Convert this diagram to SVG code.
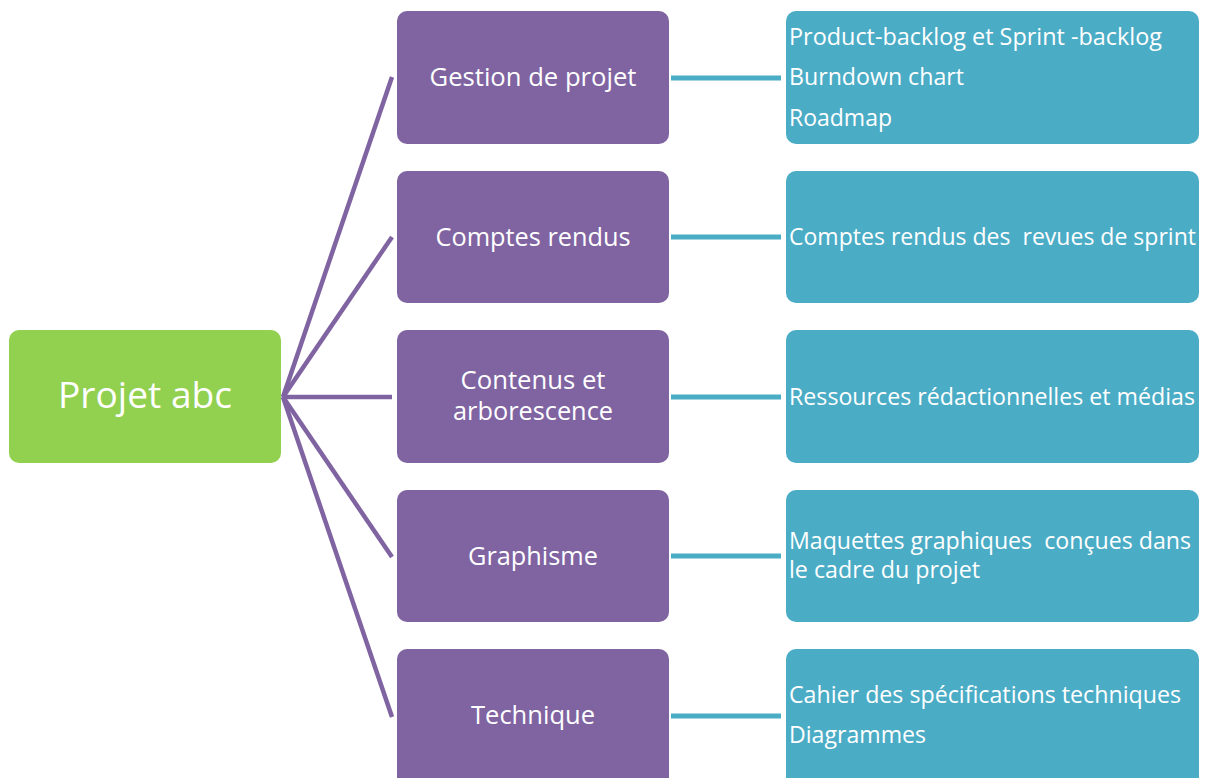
<svg xmlns="http://www.w3.org/2000/svg" width="1206" height="778" viewBox="0 0 1206 778">
<style>
.root{fill:#92D050}
.mid{fill:#8064A2}
.leaf{fill:#4BACC6}
text{font-family:"Open Sans","Liberation Sans",sans-serif;fill:#fff;white-space:pre}
.t1{font-size:37px;text-anchor:middle}
.t2{font-size:25px;text-anchor:middle}
.t3{font-size:23px}
.c1{stroke:#8064A2;stroke-width:4.5;fill:none}
.c2{stroke:#4BACC6;stroke-width:5;fill:none}
</style>
<rect width="1206" height="778" fill="#fff"/>
<g id="connectors">
<line class="c1" x1="283" y1="397" x2="392" y2="77"/>
<line class="c1" x1="283" y1="397" x2="392" y2="237"/>
<line class="c1" x1="283" y1="397" x2="392" y2="397"/>
<line class="c1" x1="283" y1="397" x2="392" y2="557"/>
<line class="c1" x1="283" y1="397" x2="392" y2="717"/>
<line class="c2" x1="671" y1="78" x2="781" y2="78"/>
<line class="c2" x1="671" y1="237" x2="781" y2="237"/>
<line class="c2" x1="671" y1="397" x2="781" y2="397"/>
<line class="c2" x1="671" y1="556" x2="781" y2="556"/>
<line class="c2" x1="671" y1="716" x2="781" y2="716"/>
</g>
<g id="root">
<rect class="root" x="9" y="330" width="272" height="133" rx="10"/>
<text class="t1" x="145" y="408" textLength="174" lengthAdjust="spacingAndGlyphs">Projet abc</text>
</g>
<g id="n1">
<rect class="mid" x="397" y="11" width="272" height="133" rx="10"/>
<text class="t2" x="533" y="86" textLength="207" lengthAdjust="spacingAndGlyphs">Gestion de projet</text>
</g>
<g id="n2">
<rect class="mid" x="397" y="171" width="272" height="132" rx="10"/>
<text class="t2" x="533" y="246" textLength="195" lengthAdjust="spacingAndGlyphs">Comptes rendus</text>
</g>
<g id="n3">
<rect class="mid" x="397" y="330" width="272" height="133" rx="10"/>
<text class="t2" x="533" y="389" textLength="145" lengthAdjust="spacingAndGlyphs">Contenus et</text>
<text class="t2" x="533" y="420" textLength="160" lengthAdjust="spacingAndGlyphs">arborescence</text>
</g>
<g id="n4">
<rect class="mid" x="397" y="490" width="272" height="132" rx="10"/>
<text class="t2" x="533" y="565" textLength="130" lengthAdjust="spacingAndGlyphs">Graphisme</text>
</g>
<g id="n5">
<rect class="mid" x="397" y="649" width="272" height="140" rx="10"/>
<text class="t2" x="533" y="724" textLength="124" lengthAdjust="spacingAndGlyphs">Technique</text>
</g>
<g id="l1">
<rect class="leaf" x="786" y="11" width="413" height="133" rx="10"/>
<text class="t3" x="789" y="45" textLength="373" lengthAdjust="spacingAndGlyphs">Product-backlog et Sprint -backlog</text>
<text class="t3" x="789" y="85" textLength="175" lengthAdjust="spacingAndGlyphs">Burndown chart</text>
<text class="t3" x="789" y="126" textLength="103" lengthAdjust="spacingAndGlyphs">Roadmap</text>
</g>
<g id="l2">
<rect class="leaf" x="786" y="171" width="413" height="132" rx="10"/>
<text class="t3" x="789" y="245" textLength="407" lengthAdjust="spacingAndGlyphs" xml:space="preserve">Comptes rendus des  revues de sprint</text>
</g>
<g id="l3">
<rect class="leaf" x="786" y="330" width="413" height="133" rx="10"/>
<text class="t3" x="789" y="405" textLength="406" lengthAdjust="spacingAndGlyphs">Ressources rédactionnelles et médias</text>
</g>
<g id="l4">
<rect class="leaf" x="786" y="490" width="413" height="132" rx="10"/>
<text class="t3" x="789" y="549" textLength="402" lengthAdjust="spacingAndGlyphs" xml:space="preserve">Maquettes graphiques  conçues dans</text>
<text class="t3" x="789" y="578" textLength="191" lengthAdjust="spacingAndGlyphs">le cadre du projet</text>
</g>
<g id="l5">
<rect class="leaf" x="786" y="649" width="413" height="140" rx="10"/>
<text class="t3" x="789" y="703" textLength="392" lengthAdjust="spacingAndGlyphs">Cahier des spécifications techniques</text>
<text class="t3" x="789" y="743" textLength="137" lengthAdjust="spacingAndGlyphs">Diagrammes</text>
</g>
</svg>
